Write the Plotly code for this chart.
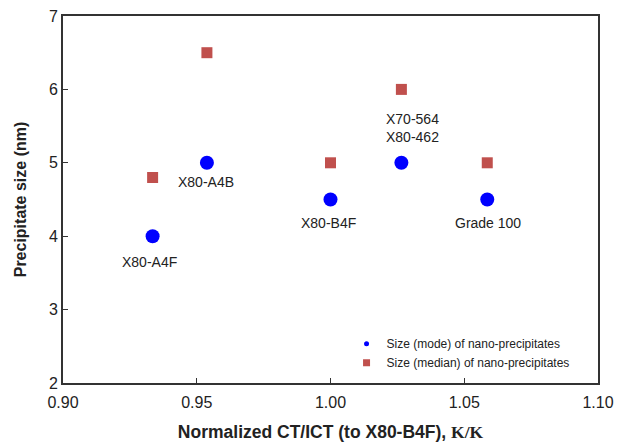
import plotly.graph_objects as go

samples = ["X80-A4F", "X80-A4B", "X80-B4F", "X70-564<br>X80-462", "Grade 100"]
norm_ct = [0.9335, 0.9538, 1.000, 1.0265, 1.0586]
size_mode = [4.0, 5.0, 4.5, 5.0, 4.5]
size_median = [4.8, 6.5, 5.0, 6.0, 5.0]
label_x = [0.9325, 0.9535, 0.9993, 1.0308, 1.0590]
label_y = [3.65, 4.74, 4.18, 5.48, 4.18]

BLUE = "#0000FF"
RED = "#C0504D"
FONT = "Liberation Sans, Arial, sans-serif"

fig = go.Figure()
fig.add_trace(go.Scatter(x=norm_ct, y=size_mode, mode="markers",
                         marker=dict(symbol="circle", size=14, color=BLUE),
                         showlegend=False))
fig.add_trace(go.Scatter(x=norm_ct, y=size_median, mode="markers",
                         marker=dict(symbol="square", size=11, color=RED),
                         showlegend=False))
# legend entries (small markers as in reference)
fig.add_trace(go.Scatter(x=[None], y=[None], mode="markers",
                         marker=dict(symbol="circle", size=5, color=BLUE),
                         name="Size (mode) of nano-precipitates"))
fig.add_trace(go.Scatter(x=[None], y=[None], mode="markers",
                         marker=dict(symbol="square", size=7, color=RED),
                         name="Size (median) of nano-precipitates"))

for s, lx, ly in zip(samples, label_x, label_y):
    fig.add_annotation(x=lx, y=ly, text=s, showarrow=False,
                       font=dict(family=FONT, size=14, color="#222"),
                       xanchor="center", yanchor="middle")

fig.update_layout(
    width=625, height=445,
    margin=dict(l=63, r=27, t=16, b=62),
    paper_bgcolor="white", plot_bgcolor="white",
    font=dict(family=FONT, color="#222"),
    legend=dict(x=0.53, y=0.016, xanchor="left", yanchor="bottom",
                bgcolor="rgba(0,0,0,0)", font=dict(size=12, family=FONT),
                itemsizing="trace", tracegroupgap=0, itemwidth=30),
)
fig.update_xaxes(range=[0.90, 1.10], tickvals=[0.90, 0.95, 1.00, 1.05, 1.10],
                 ticktext=["0.90", "0.95", "1.00", "1.05", "1.10"],
                 ticks="inside", ticklen=5, tickcolor="#333",
                 showline=True, linecolor="#333", linewidth=2, mirror=True,
                 showgrid=False, zeroline=False, ticklabelstandoff=4,
                 automargin=False,
                 tickfont=dict(size=16, family=FONT, color="#222"),
                 title=dict(text="<b>Normalized CT/ICT (to X80-B4F), <span style='font-family:Liberation Serif, serif'>K/K</span></b>",
                            font=dict(size=17.5, family=FONT, color="#222"), standoff=16))
fig.update_yaxes(range=[2, 7], tickvals=[2, 3, 4, 5, 6, 7],
                 ticks="inside", ticklen=5, tickcolor="#333",
                 showline=True, linecolor="#333", linewidth=2, mirror=True,
                 showgrid=False, zeroline=False, automargin=False,
                 tickfont=dict(size=16, family=FONT, color="#222"),
                 title=dict(text="<b>Precipitate size (nm)</b>",
                            font=dict(size=16, family=FONT, color="#222"), standoff=18))

fig.write_html("out.html", config={"displayModeBar": False},
               post_script="document.body.style.margin='0';")
